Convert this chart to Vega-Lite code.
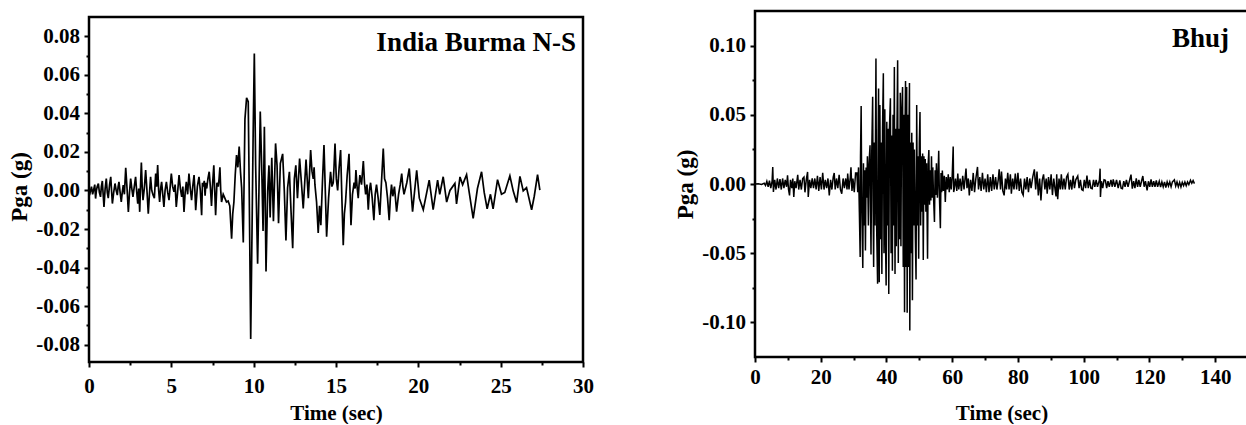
{
"$schema": "https://vega.github.io/schema/vega-lite/v6.json",
"background": "white",
"padding": {"left": 8, "top": 9, "right": 0, "bottom": 0},
"spacing": 80,
"config": {
  "view": {"stroke": null},
  "axis": {"domain": false, "tickColor": "black", "tickWidth": 2, "tickSize": 5, "labelColor": "black", "labelFont": "Liberation Serif", "labelFontWeight": "bold", "labelFontSize": 21, "titleFont": "Liberation Serif", "titleFontWeight": "bold", "titleColor": "black", "grid": false, "labelOverlap": false, "labelFlush": false},
  "axisX": {"titleFontSize": 21},
  "axisY": {"titleFontSize": 23, "labelPadding": 4.5, "titlePadding": 4}
},
"datasets": {
  "burma": [
{"t":0.0,"a":0.001},{"t":0.07,"a":-0.001},{"t":0.15,"a":0.002},{"t":0.22,"a":-0.002},{"t":0.3,"a":0.001},{"t":0.35,"a":0.003},{"t":0.4,"a":-0.0042},{"t":0.45,"a":0.0},{"t":0.5,"a":0.002},{"t":0.57,"a":0.0036},{"t":0.63,"a":-0.001},{"t":0.7,"a":-0.0033},{"t":0.75,"a":0.002},{"t":0.81,"a":0.0049},{"t":0.86,"a":-0.002},{"t":0.91,"a":-0.0085},{"t":0.98,"a":0.001},{"t":1.05,"a":0.0062},{"t":1.11,"a":-0.001},{"t":1.17,"a":-0.004},{"t":1.25,"a":0.003},{"t":1.32,"a":0.0071},{"t":1.37,"a":0.0},{"t":1.42,"a":-0.0068},{"t":1.5,"a":-0.001},{"t":1.58,"a":0.0036},{"t":1.65,"a":0.0},{"t":1.72,"a":-0.0024},{"t":1.77,"a":0.002},{"t":1.82,"a":0.0045},{"t":1.89,"a":-0.001},{"t":1.96,"a":-0.0059},{"t":2.02,"a":-0.001},{"t":2.08,"a":0.0028},{"t":2.15,"a":-0.002},{"t":2.23,"a":0.0118},{"t":2.31,"a":0.001},{"t":2.39,"a":-0.0111},{"t":2.46,"a":-0.001},{"t":2.53,"a":0.0062},{"t":2.6,"a":0.001},{"t":2.67,"a":-0.0033},{"t":2.75,"a":0.002},{"t":2.83,"a":0.0071},{"t":2.9,"a":-0.001},{"t":2.96,"a":-0.0068},{"t":3.02,"a":0.001},{"t":3.08,"a":-0.0111},{"t":3.13,"a":0.003},{"t":3.18,"a":0.0145},{"t":3.23,"a":0.002},{"t":3.28,"a":-0.005},{"t":3.36,"a":0.001},{"t":3.44,"a":0.0106},{"t":3.52,"a":0.0},{"t":3.6,"a":-0.012},{"t":3.67,"a":-0.002},{"t":3.74,"a":0.0071},{"t":3.81,"a":0.0},{"t":3.89,"a":-0.0024},{"t":3.97,"a":-0.004},{"t":4.05,"a":0.0088},{"t":4.11,"a":0.002},{"t":4.17,"a":0.0132},{"t":4.23,"a":0.0},{"t":4.29,"a":-0.0059},{"t":4.35,"a":0.001},{"t":4.41,"a":0.0045},{"t":4.48,"a":-0.002},{"t":4.55,"a":-0.0085},{"t":4.62,"a":0.0},{"t":4.7,"a":0.0045},{"t":4.78,"a":-0.001},{"t":4.86,"a":-0.005},{"t":4.93,"a":0.002},{"t":5.0,"a":0.0088},{"t":5.08,"a":0.002},{"t":5.16,"a":-0.0007},{"t":5.23,"a":0.003},{"t":5.3,"a":-0.0085},{"t":5.38,"a":-0.001},{"t":5.47,"a":0.008},{"t":5.55,"a":0.001},{"t":5.63,"a":-0.0033},{"t":5.7,"a":0.002},{"t":5.77,"a":-0.0111},{"t":5.84,"a":-0.001},{"t":5.91,"a":0.0045},{"t":5.99,"a":-0.002},{"t":6.07,"a":0.0088},{"t":6.15,"a":0.001},{"t":6.23,"a":-0.005},{"t":6.3,"a":0.002},{"t":6.38,"a":0.008},{"t":6.43,"a":0.0},{"t":6.48,"a":-0.0102},{"t":6.58,"a":0.002},{"t":6.68,"a":0.0071},{"t":6.76,"a":0.0},{"t":6.84,"a":-0.0128},{"t":6.89,"a":0.004},{"t":6.94,"a":0.002},{"t":7.0,"a":0.005},{"t":7.05,"a":-0.0027},{"t":7.1,"a":0.004},{"t":7.15,"a":0.001},{"t":7.22,"a":0.006},{"t":7.3,"a":0.0097},{"t":7.37,"a":0.002},{"t":7.44,"a":-0.008},{"t":7.51,"a":0.004},{"t":7.58,"a":0.013},{"t":7.63,"a":0.001},{"t":7.69,"a":-0.0128},{"t":7.77,"a":0.004},{"t":7.85,"a":0.002},{"t":7.9,"a":0.006},{"t":7.95,"a":0.012},{"t":8.0,"a":0.0},{"t":8.05,"a":-0.006},{"t":8.15,"a":-0.002},{"t":8.25,"a":-0.004},{"t":8.35,"a":-0.006},{"t":8.45,"a":-0.0055},{"t":8.55,"a":-0.008},{"t":8.66,"a":-0.025},{"t":8.73,"a":-0.012},{"t":8.8,"a":-0.006},{"t":8.88,"a":0.008},{"t":8.96,"a":0.0183},{"t":9.04,"a":0.012},{"t":9.12,"a":0.0228},{"t":9.2,"a":0.0097},{"t":9.27,"a":0.0012},{"t":9.37,"a":-0.027},{"t":9.47,"a":0.037},{"t":9.57,"a":0.048},{"t":9.67,"a":0.046},{"t":9.73,"a":0.0},{"t":9.82,"a":-0.077},{"t":9.9,"a":-0.021},{"t":9.97,"a":0.03},{"t":10.04,"a":0.071},{"t":10.12,"a":0.013},{"t":10.24,"a":-0.038},{"t":10.32,"a":-0.0006},{"t":10.4,"a":0.041},{"t":10.5,"a":0.0078},{"t":10.57,"a":-0.021},{"t":10.65,"a":0.033},{"t":10.75,"a":-0.042},{"t":10.85,"a":-0.0006},{"t":10.93,"a":0.013},{"t":11.0,"a":-0.014},{"t":11.1,"a":0.017},{"t":11.2,"a":-0.016},{"t":11.33,"a":0.0244},{"t":11.42,"a":0.013},{"t":11.51,"a":-0.017},{"t":11.62,"a":0.014},{"t":11.76,"a":0.019},{"t":11.86,"a":0.0},{"t":11.96,"a":-0.026},{"t":12.06,"a":0.0014},{"t":12.17,"a":0.0097},{"t":12.27,"a":-0.011},{"t":12.37,"a":-0.03},{"t":12.47,"a":0.006},{"t":12.56,"a":0.013},{"t":12.66,"a":-0.004},{"t":12.79,"a":0.0166},{"t":12.9,"a":0.004},{"t":13.01,"a":-0.0093},{"t":13.1,"a":0.004},{"t":13.18,"a":0.016},{"t":13.25,"a":0.006},{"t":13.32,"a":-0.004},{"t":13.39,"a":0.008},{"t":13.46,"a":0.021},{"t":13.54,"a":0.01},{"t":13.62,"a":0.006},{"t":13.67,"a":0.012},{"t":13.72,"a":0.003},{"t":13.82,"a":-0.006},{"t":13.92,"a":-0.022},{"t":14.0,"a":-0.008},{"t":14.08,"a":-0.018},{"t":14.18,"a":0.005},{"t":14.27,"a":0.0236},{"t":14.35,"a":0.0},{"t":14.43,"a":-0.024},{"t":14.55,"a":-0.004},{"t":14.67,"a":0.0097},{"t":14.75,"a":0.002},{"t":14.83,"a":0.004},{"t":14.88,"a":0.012},{"t":14.94,"a":0.0244},{"t":15.02,"a":0.006},{"t":15.1,"a":0.0},{"t":15.19,"a":0.012},{"t":15.28,"a":0.021},{"t":15.36,"a":-0.005},{"t":15.44,"a":-0.0284},{"t":15.51,"a":-0.012},{"t":15.58,"a":-0.006},{"t":15.68,"a":0.008},{"t":15.79,"a":0.019},{"t":15.85,"a":0.0},{"t":15.91,"a":-0.018},{"t":16.0,"a":-0.002},{"t":16.1,"a":0.004},{"t":16.16,"a":0.001},{"t":16.21,"a":0.0106},{"t":16.28,"a":0.002},{"t":16.35,"a":-0.004},{"t":16.4,"a":0.003},{"t":16.45,"a":0.008},{"t":16.55,"a":0.003},{"t":16.66,"a":0.0153},{"t":16.73,"a":0.004},{"t":16.8,"a":-0.002},{"t":16.88,"a":0.003},{"t":16.96,"a":-0.01},{"t":17.03,"a":0.0},{"t":17.1,"a":0.004},{"t":17.2,"a":-0.004},{"t":17.3,"a":-0.0154},{"t":17.38,"a":-0.002},{"t":17.46,"a":0.003},{"t":17.56,"a":-0.004},{"t":17.66,"a":-0.0127},{"t":17.76,"a":0.004},{"t":17.87,"a":0.0218},{"t":17.95,"a":0.006},{"t":18.03,"a":0.004},{"t":18.13,"a":-0.004},{"t":18.23,"a":-0.0154},{"t":18.3,"a":-0.004},{"t":18.37,"a":0.003},{"t":18.45,"a":-0.003},{"t":18.55,"a":0.002},{"t":18.68,"a":-0.011},{"t":18.8,"a":-0.002},{"t":18.9,"a":0.003},{"t":18.99,"a":0.0088},{"t":19.06,"a":0.002},{"t":19.13,"a":-0.002},{"t":19.3,"a":0.004},{"t":19.45,"a":0.0114},{"t":19.65,"a":-0.011},{"t":19.9,"a":0.0105},{"t":20.06,"a":-0.004},{"t":20.3,"a":-0.01},{"t":20.66,"a":0.0054},{"t":20.9,"a":-0.01},{"t":21.17,"a":0.0054},{"t":21.3,"a":-0.002},{"t":21.51,"a":0.0071},{"t":21.72,"a":-0.006},{"t":21.92,"a":0.0},{"t":22.22,"a":0.0036},{"t":22.32,"a":-0.007},{"t":22.53,"a":0.007},{"t":22.69,"a":0.003},{"t":22.93,"a":0.0082},{"t":23.09,"a":-0.001},{"t":23.33,"a":-0.0145},{"t":23.59,"a":0.001},{"t":23.84,"a":0.0097},{"t":24.0,"a":-0.001},{"t":24.18,"a":-0.0095},{"t":24.38,"a":-0.002},{"t":24.54,"a":-0.0095},{"t":24.81,"a":0.0056},{"t":25.05,"a":-0.002},{"t":25.25,"a":-0.001},{"t":25.56,"a":0.0076},{"t":25.76,"a":-0.0002},{"t":25.97,"a":-0.0063},{"t":26.17,"a":0.0073},{"t":26.37,"a":-0.0002},{"t":26.57,"a":0.0015},{"t":26.88,"a":-0.01},{"t":27.04,"a":-0.003},{"t":27.24,"a":0.0082},{"t":27.38,"a":0.0002}
  ],
  "bhuj": [
{"t":0,"a":0},{"t":1,"a":0.0002},{"t":2,"a":-0.0003},{"t":2.8,"a":0.0005},{"t":3.2,"a":-0.001},{"t":3.6,"a":0.002},{"t":4.0,"a":-0.002},{"t":4.4,"a":0.0025},{"t":4.8,"a":-0.003},{"t":5.2,"a":0.002},{"t":5.4,"a":0.0123},{"t":5.6,"a":-0.0058},{"t":6.0,"a":0.003},{"t":6.4,"a":-0.004},{"t":6.8,"a":0.004},{"t":7.2,"a":-0.003},{"t":7.6,"a":0.0035},{"t":8.0,"a":-0.004},{"t":8.4,"a":0.004},{"t":8.8,"a":-0.003},{"t":9.2,"a":0.003},{"t":9.6,"a":-0.002},{"t":9.9,"a":0.0063},{"t":10.2,"a":-0.004},{"t":10.5,"a":-0.0082},{"t":10.8,"a":0.003},{"t":11.2,"a":-0.003},{"t":11.5,"a":0.004},{"t":11.8,"a":-0.0094},{"t":12.1,"a":0.002},{"t":12.5,"a":-0.003},{"t":13.0,"a":0.0067},{"t":13.3,"a":-0.004},{"t":13.7,"a":0.003},{"t":14.1,"a":-0.004},{"t":14.5,"a":0.004},{"t":14.9,"a":0.005},{"t":15.2,"a":-0.006},{"t":15.6,"a":0.003},{"t":16.0,"a":0.0087},{"t":16.2,"a":-0.0094},{"t":16.6,"a":0.003},{"t":17.0,"a":-0.003},{"t":17.4,"a":0.004},{"t":17.8,"a":-0.003},{"t":18.2,"a":0.004},{"t":18.6,"a":-0.004},{"t":19.0,"a":0.006},{"t":19.4,"a":-0.005},{"t":19.8,"a":0.005},{"t":20.2,"a":-0.004},{"t":20.6,"a":0.008},{"t":21.0,"a":-0.004},{"t":21.4,"a":0.003},{"t":21.8,"a":-0.003},{"t":22.2,"a":0.004},{"t":22.6,"a":-0.0082},{"t":23.0,"a":0.003},{"t":23.4,"a":-0.004},{"t":23.8,"a":0.005},{"t":24.1,"a":0.008},{"t":24.4,"a":-0.004},{"t":24.8,"a":0.004},{"t":25.2,"a":-0.003},{"t":25.6,"a":0.0067},{"t":26.0,"a":-0.004},{"t":26.4,"a":-0.007},{"t":26.8,"a":0.004},{"t":27.2,"a":-0.003},{"t":27.6,"a":0.004},{"t":28.0,"a":-0.004},{"t":28.2,"a":0.0075},{"t":28.6,"a":-0.004},{"t":29.0,"a":0.005},{"t":29.2,"a":0.012},{"t":29.5,"a":-0.005},{"t":29.8,"a":0.004},{"t":30.2,"a":-0.006},{"t":30.6,"a":0.008},
{"t":31.0,"a":0.008},{"t":31.25,"a":-0.006},{"t":31.5,"a":0.012},{"t":31.75,"a":-0.02},{"t":32.0,"a":-0.0528},{"t":32.1,"a":0.02},{"t":32.3,"a":0.0564},{"t":32.5,"a":-0.02},{"t":32.8,"a":-0.0607},{"t":33.0,"a":0.015},{"t":33.2,"a":-0.03},{"t":33.4,"a":0.01},{"t":33.6,"a":-0.048},{"t":33.8,"a":0.012},{"t":34.0,"a":-0.01},{"t":34.2,"a":0.02},{"t":34.5,"a":-0.03},{"t":34.7,"a":0.015},{"t":35.0,"a":0.028},{"t":35.15,"a":-0.02},{"t":35.3,"a":-0.051},{"t":35.5,"a":0.02},{"t":35.8,"a":0.063},{"t":35.95,"a":-0.02},{"t":36.1,"a":-0.06},{"t":36.3,"a":0.03},{"t":36.5,"a":-0.03},{"t":36.8,"a":0.0906},{"t":37.0,"a":-0.03},{"t":37.3,"a":-0.072},{"t":37.45,"a":0.03},{"t":37.6,"a":0.069},{"t":37.8,"a":-0.071},{"t":38.0,"a":0.057},{"t":38.2,"a":-0.04},{"t":38.4,"a":0.03},{"t":38.6,"a":-0.065},{"t":38.8,"a":0.04},{"t":39.05,"a":0.08},{"t":39.25,"a":-0.05},{"t":39.5,"a":0.054},{"t":39.7,"a":-0.04},{"t":39.9,"a":-0.0734},{"t":40.1,"a":0.045},{"t":40.3,"a":-0.03},{"t":40.5,"a":0.04},{"t":40.7,"a":-0.0794},{"t":40.9,"a":0.04},{"t":41.2,"a":0.062},{"t":41.4,"a":-0.05},{"t":41.6,"a":0.035},{"t":41.8,"a":-0.0626},{"t":42.0,"a":0.05},{"t":42.2,"a":-0.03},{"t":42.4,"a":0.0846},{"t":42.6,"a":-0.065},{"t":42.8,"a":0.04},{"t":43.0,"a":-0.045},{"t":43.2,"a":0.04},{"t":43.4,"a":0.0894},{"t":43.6,"a":-0.057},{"t":43.8,"a":0.04},{"t":44.0,"a":-0.04},{"t":44.2,"a":0.066},{"t":44.4,"a":-0.045},{"t":44.6,"a":0.05},{"t":44.9,"a":0.07},{"t":45.1,"a":-0.06},{"t":45.3,"a":0.05},{"t":45.5,"a":-0.0927},{"t":45.65,"a":0.04},{"t":45.8,"a":0.0745},{"t":46.0,"a":-0.06},{"t":46.15,"a":0.07},{"t":46.3,"a":-0.093},{"t":46.5,"a":0.05},{"t":46.7,"a":-0.06},{"t":46.85,"a":0.04},{"t":47.0,"a":0.073},{"t":47.1,"a":-0.1058},{"t":47.3,"a":0.03},{"t":47.5,"a":-0.05},{"t":47.7,"a":0.037},{"t":47.9,"a":-0.084},{"t":48.1,"a":0.03},{"t":48.3,"a":-0.03},{"t":48.5,"a":0.025},{"t":48.8,"a":-0.04},{"t":49.0,"a":-0.069},{"t":49.2,"a":0.057},{"t":49.4,"a":-0.03},{"t":49.6,"a":0.02},{"t":49.8,"a":-0.054},{"t":50.0,"a":0.03},{"t":50.2,"a":0.052},{"t":50.4,"a":-0.03},{"t":50.6,"a":0.02},{"t":50.8,"a":-0.02},{"t":51.0,"a":0.022},{"t":51.2,"a":-0.055},{"t":51.4,"a":0.02},{"t":51.6,"a":-0.015},{"t":51.8,"a":0.018},{"t":52.0,"a":-0.02},{"t":52.2,"a":0.015},{"t":52.5,"a":-0.054},{"t":52.7,"a":0.015},{"t":52.9,"a":0.0245},{"t":53.1,"a":-0.015},{"t":53.3,"a":0.01},{"t":53.5,"a":-0.012},{"t":53.7,"a":0.02},{"t":53.9,"a":-0.01},{"t":54.1,"a":0.012},{"t":54.3,"a":-0.008},{"t":54.6,"a":-0.0275},{"t":54.8,"a":0.01},{"t":55.0,"a":-0.008},{"t":55.2,"a":0.015},{"t":55.5,"a":-0.01},{"t":55.9,"a":0.024},{"t":56.1,"a":-0.008},{"t":56.4,"a":-0.032},{"t":56.6,"a":0.008},{"t":56.8,"a":-0.006},{"t":57.0,"a":0.0097},{"t":57.3,"a":-0.005},{"t":57.6,"a":0.006},{"t":57.9,"a":-0.013},{"t":58.2,"a":0.005},{"t":58.5,"a":-0.004},{"t":58.8,"a":0.007},{"t":59.1,"a":-0.006},{"t":59.4,"a":0.005},{"t":59.7,"a":-0.004},{"t":60.0,"a":0.006},{"t":60.3,"a":0.027},{"t":60.45,"a":-0.0058},
{"t":60.6,"a":-0.004},{"t":61.0,"a":0.004},{"t":61.4,"a":-0.005},{"t":61.7,"a":0.0075},{"t":62.0,"a":-0.004},{"t":62.4,"a":0.004},{"t":62.8,"a":-0.005},{"t":63.2,"a":0.006},{"t":63.6,"a":-0.004},{"t":64.2,"a":0.0111},{"t":64.5,"a":-0.003},{"t":64.9,"a":0.004},{"t":65.2,"a":-0.0082},{"t":65.6,"a":0.003},{"t":66.0,"a":-0.005},{"t":66.4,"a":0.008},{"t":66.8,"a":-0.006},{"t":67.2,"a":0.004},{"t":67.7,"a":0.0123},{"t":68.0,"a":-0.004},{"t":68.4,"a":0.005},{"t":68.8,"a":-0.005},{"t":69.2,"a":0.008},{"t":69.6,"a":-0.004},{"t":70.0,"a":0.004},{"t":70.4,"a":-0.006},{"t":70.8,"a":0.007},{"t":71.2,"a":-0.006},{"t":71.6,"a":0.005},{"t":72.0,"a":-0.005},{"t":72.4,"a":0.007},{"t":72.8,"a":-0.004},{"t":73.2,"a":0.005},{"t":73.6,"a":-0.004},{"t":74.0,"a":0.003},{"t":74.3,"a":0.0106},{"t":74.7,"a":-0.004},{"t":75.0,"a":0.009},{"t":75.4,"a":-0.005},{"t":75.8,"a":-0.0082},{"t":76.2,"a":0.004},{"t":76.5,"a":-0.004},{"t":76.9,"a":0.008},{"t":77.3,"a":-0.004},{"t":77.7,"a":0.007},{"t":78.0,"a":-0.007},{"t":78.4,"a":0.004},{"t":78.8,"a":-0.004},{"t":79.2,"a":0.0075},{"t":79.6,"a":-0.004},{"t":80.0,"a":0.008},{"t":80.4,"a":-0.005},{"t":80.8,"a":0.004},{"t":81.2,"a":-0.006},{"t":81.6,"a":-0.008},{"t":82.0,"a":0.004},{"t":82.4,"a":-0.004},{"t":82.8,"a":0.005},{"t":83.2,"a":-0.006},{"t":83.6,"a":0.004},{"t":84.0,"a":-0.003},{"t":84.5,"a":0.005},{"t":85.0,"a":0.0106},{"t":85.4,"a":-0.004},{"t":85.8,"a":0.009},{"t":86.2,"a":-0.0082},{"t":86.6,"a":0.004},{"t":87.0,"a":-0.0118},{"t":87.4,"a":0.003},{"t":87.8,"a":0.007},{"t":88.2,"a":-0.004},{"t":88.6,"a":0.004},{"t":88.9,"a":-0.007},{"t":89.3,"a":0.005},{"t":89.7,"a":-0.004},{"t":90.1,"a":0.007},{"t":90.5,"a":-0.008},{"t":90.9,"a":0.004},{"t":91.3,"a":-0.004},{"t":91.6,"a":-0.009},{"t":91.8,"a":0.007},{"t":92.1,"a":-0.011},{"t":92.5,"a":0.004},{"t":92.9,"a":-0.004},{"t":93.2,"a":0.007},{"t":93.6,"a":-0.004},{"t":94.0,"a":0.004},{"t":94.4,"a":-0.004},{"t":94.8,"a":0.005},{"t":95.2,"a":0.007},{"t":95.6,"a":-0.004},{"t":96.0,"a":0.003},{"t":96.4,"a":-0.004},{"t":96.8,"a":0.006},{"t":97.2,"a":-0.003},{"t":97.6,"a":0.003},{"t":98.2,"a":0.0058},{"t":98.6,"a":-0.003},{"t":99.0,"a":0.003},{"t":99.4,"a":-0.004},{"t":99.8,"a":-0.0046},{"t":100.2,"a":0.003},{"t":100.6,"a":-0.003},{"t":101.0,"a":0.006},{"t":101.4,"a":-0.003},{"t":101.8,"a":0.003},{"t":102.2,"a":-0.003},{"t":102.6,"a":-0.0034},{"t":103.0,"a":0.003},{"t":103.4,"a":-0.002},{"t":103.8,"a":0.003},{"t":104.2,"a":-0.002},{"t":104.8,"a":0.003},{"t":105.0,"a":0.0111},{"t":105.1,"a":-0.0094},{"t":105.4,"a":0.002},{"t":105.8,"a":-0.003},{"t":106.2,"a":0.003},{"t":106.6,"a":0.0026},{"t":107.0,"a":-0.003},{"t":107.4,"a":0.002},{"t":107.8,"a":-0.002},{"t":108.3,"a":0.003},{"t":108.7,"a":-0.002},{"t":109.0,"a":0.0034},{"t":109.5,"a":-0.002},{"t":110.0,"a":0.003},{"t":110.5,"a":-0.003},{"t":111.0,"a":0.0026},{"t":111.4,"a":-0.003},{"t":111.8,"a":-0.0034},{"t":112.2,"a":0.002},{"t":112.6,"a":-0.002},{"t":113.0,"a":0.003},{"t":113.5,"a":-0.002},{"t":114.0,"a":0.003},{"t":114.4,"a":0.0068},{"t":114.8,"a":-0.0034},{"t":115.2,"a":0.002},{"t":115.6,"a":-0.003},{"t":116.0,"a":0.004},{"t":116.4,"a":-0.002},{"t":116.8,"a":0.003},{"t":117.2,"a":-0.002},{"t":117.6,"a":0.002},{"t":118.0,"a":0.0058},{"t":118.4,"a":-0.002},{"t":118.8,"a":0.002},{"t":119.3,"a":-0.0046},{"t":119.7,"a":0.002},{"t":120.1,"a":-0.002},{"t":120.5,"a":0.0034},{"t":120.9,"a":-0.002},{"t":121.3,"a":0.002},{"t":121.7,"a":-0.002},{"t":122.1,"a":0.0026},{"t":122.5,"a":-0.002},{"t":123.0,"a":0.002},{"t":123.4,"a":-0.0022},{"t":123.8,"a":0.0015},{"t":124.2,"a":-0.002},{"t":124.6,"a":0.0015},{"t":125.0,"a":-0.0025},{"t":125.4,"a":0.0015},{"t":125.8,"a":-0.0015},{"t":126.2,"a":0.0015},{"t":126.6,"a":-0.002},{"t":127.0,"a":0.0015},{"t":127.6,"a":0.003},{"t":128.0,"a":-0.0015},{"t":128.4,"a":0.0015},{"t":128.8,"a":-0.002},{"t":129.2,"a":0.0012},{"t":129.6,"a":-0.0022},{"t":130.0,"a":0.0012},{"t":130.4,"a":-0.0012},{"t":130.8,"a":0.0015},{"t":131.2,"a":-0.0012},{"t":131.6,"a":0.0015},{"t":132.0,"a":-0.0005},{"t":132.5,"a":0.0027},{"t":132.9,"a":0.0005},{"t":133.3,"a":0.0025},{"t":133.7,"a":0.0003}
  ]
},
"hconcat": [
  {
    "width": 494, "height": 351,
    "resolve": {"axis": {"x": "independent", "y": "independent"}},
    "layer": [
      {
        "data": {"name": "burma"},
        "mark": {"type": "line", "color": "black", "strokeWidth": 1.7},
        "encoding": {
          "x": {"field": "t", "type": "quantitative", "scale": {"domain": [0, 30], "nice": false, "zero": false},
                "axis": {"orient": "bottom", "title": "Time (sec)", "values": [0,5,10,15,20,25,30], "format": "d", "labelPadding": 8.5, "titlePadding": 6}},
          "y": {"field": "a", "type": "quantitative", "scale": {"domain": [-0.089, 0.0931], "nice": false, "zero": false},
                "axis": {"orient": "left", "title": "Pga (g)", "values": [-0.08,-0.06,-0.04,-0.02,0,0.02,0.04,0.06,0.08],
                         "labelExpr": "(datum.value < -0.0001 ? '-' : '') + format(abs(datum.value), '.2f')"}}
        }
      },
      {
        "data": {"values": [{"x1": 0, "x2": 30, "y1": -0.089, "y2": 0.09}]},
        "mark": {"type": "rect", "fillOpacity": 0, "stroke": "black", "strokeWidth": 2.5},
        "encoding": {
          "x": {"field": "x1", "type": "quantitative", "scale": {"domain": [0, 30], "nice": false, "zero": false},
                "axis": {"orient": "bottom", "values": [2.5,7.5,12.5,17.5,22.5,27.5], "labels": false, "title": null, "tickSize": 3}},
          "x2": {"field": "x2"},
          "y": {"field": "y1", "type": "quantitative", "scale": {"domain": [-0.089, 0.0931], "nice": false, "zero": false},
                "axis": {"orient": "left", "values": [-0.07,-0.05,-0.03,-0.01,0.01,0.03,0.05,0.07], "labels": false, "title": null, "tickSize": 3}},
          "y2": {"field": "y2"}
        }
      },
      {
        "data": {"values": [{"t": 29.57, "a": 0.0726, "label": "India Burma N-S"}]},
        "mark": {"type": "text", "align": "right", "baseline": "alphabetic", "font": "Liberation Serif", "fontWeight": "bold", "fontSize": 27, "color": "black"},
        "encoding": {
          "x": {"field": "t", "type": "quantitative", "scale": {"domain": [0, 30], "nice": false, "zero": false}, "axis": null},
          "y": {"field": "a", "type": "quantitative", "scale": {"domain": [-0.089, 0.0931], "nice": false, "zero": false}, "axis": null},
          "text": {"field": "label"}
        }
      }
    ]
  },
  {
    "width": 493, "height": 346,
    "resolve": {"axis": {"x": "independent", "y": "independent"}},
    "layer": [
      {
        "data": {"name": "bhuj"},
        "mark": {"type": "line", "color": "black", "strokeWidth": 1.5},
        "encoding": {
          "x": {"field": "t", "type": "quantitative", "scale": {"domain": [0, 150], "nice": false, "zero": false},
                "axis": {"orient": "bottom", "title": "Time (sec)", "values": [0,20,40,60,80,100,120,140], "format": "d", "labelPadding": 4.3, "titlePadding": 15.5}},
          "y": {"field": "a", "type": "quantitative", "scale": {"domain": [-0.125, 0.125], "nice": false, "zero": false},
                "axis": {"orient": "left", "title": "Pga (g)", "values": [-0.1,-0.05,0,0.05,0.1],
                         "labelExpr": "(datum.value < -0.0001 ? '-' : '') + format(abs(datum.value), '.2f')"}}
        }
      },
      {
        "data": {"values": [{"x1": 0, "x2": 150, "y1": -0.125, "y2": 0.125}]},
        "mark": {"type": "rect", "fillOpacity": 0, "stroke": "black", "strokeWidth": 2.5},
        "encoding": {
          "x": {"field": "x1", "type": "quantitative", "scale": {"domain": [0, 150], "nice": false, "zero": false},
                "axis": {"orient": "bottom", "values": [10,30,50,70,90,110,130], "labels": false, "title": null, "tickSize": 3}},
          "x2": {"field": "x2"},
          "y": {"field": "y1", "type": "quantitative", "scale": {"domain": [-0.125, 0.125], "nice": false, "zero": false},
                "axis": {"orient": "left", "values": [-0.075,-0.025,0.025,0.075], "labels": false, "title": null, "tickSize": 3}},
          "y2": {"field": "y2"}
        }
      },
      {
        "data": {"values": [{"t": 144.25, "a": 0.099, "label": "Bhuj"}]},
        "mark": {"type": "text", "align": "right", "baseline": "alphabetic", "font": "Liberation Serif", "fontWeight": "bold", "fontSize": 27, "color": "black"},
        "encoding": {
          "x": {"field": "t", "type": "quantitative", "scale": {"domain": [0, 150], "nice": false, "zero": false}, "axis": null},
          "y": {"field": "a", "type": "quantitative", "scale": {"domain": [-0.125, 0.125], "nice": false, "zero": false}, "axis": null},
          "text": {"field": "label"}
        }
      }
    ]
  }
]
}
